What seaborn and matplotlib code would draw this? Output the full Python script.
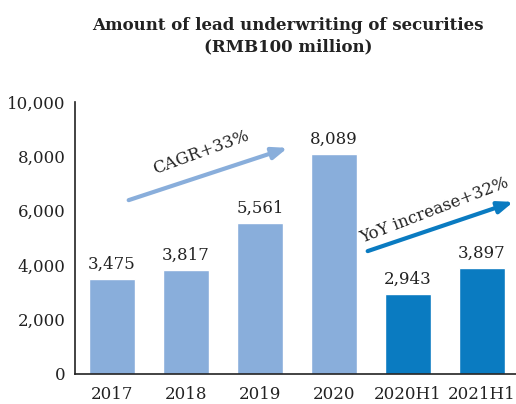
import numpy as np
import pandas as pd
import matplotlib
matplotlib.use("Agg")
import matplotlib.pyplot as plt
import seaborn as sbn

# data
periods = ["2017", "2018", "2019", "2020", "2020H1", "2021H1"]
amounts = [3475, 3817, 5561, 8089, 2943, 3897]
bar_colors = ["#89aedb", "#89aedb", "#89aedb", "#89aedb", "#0a7bc1", "#0a7bc1"]
yticks = [0, 2000, 4000, 6000, 8000, 10000]

sbn.set_style("white")
plt.rcParams["font.family"] = ["DejaVu Serif"]

fig = plt.figure(figsize=(5.16, 4.04), dpi=100)
ax = fig.add_axes([0.1453, 0.0743, 0.8547, 0.6732])

df = pd.DataFrame({"period": periods, "amount": amounts})
sbn.barplot(data=df, x="period", y="amount", hue="period", palette=bar_colors,
            legend=False, width=0.61, saturation=1, ax=ax)

# value labels
for i, v in enumerate(amounts):
    ax.text(i, v + 230, f"{v:,}", ha="center", va="bottom", fontsize=12, color="#222222")

# trend arrows
ax.annotate("", xy=(2.41, 8346), xytext=(0.19, 6360),
            arrowprops=dict(arrowstyle="-|>,head_length=0.9,head_width=0.35", color="#89aedb", lw=3))
ax.text(1.2, 8150, "CAGR+33%", rotation=20, ha="center", va="center", fontsize=12, color="#222222")
ax.annotate("", xy=(5.46, 6360), xytext=(3.42, 4485),
            arrowprops=dict(arrowstyle="-|>,head_length=0.9,head_width=0.35", color="#0a7bc1", lw=3),
            annotation_clip=False)
ax.text(4.36, 6000, "YoY increase+32%", rotation=21, ha="center", va="center", fontsize=12, color="#222222")

ax.set_ylim(0, 10000)
ax.set_xlim(-0.5, 5.46)
ax.set_yticks(yticks)
ax.set_yticklabels([f"{t:,}" for t in yticks])
ax.set_xlabel("")
ax.set_ylabel("")
ax.tick_params(axis="y", direction="in", length=8, width=1, pad=7, labelsize=12, colors="#222222")
ax.tick_params(axis="x", length=0, pad=9, labelsize=12, colors="#222222")
for s in ["top", "right"]:
    ax.spines[s].set_visible(False)
for s in ["left", "bottom"]:
    ax.spines[s].set_color("#222222")
    ax.spines[s].set_linewidth(1.2)

fig.text(288 / 516, 1 - 36 / 404, "Amount of lead underwriting of securities\n(RMB100 million)",
         ha="center", va="center", fontsize=12, fontweight="bold", color="#222222", linespacing=1.3)

plt.savefig("out.png", dpi=100)
plt.close()
